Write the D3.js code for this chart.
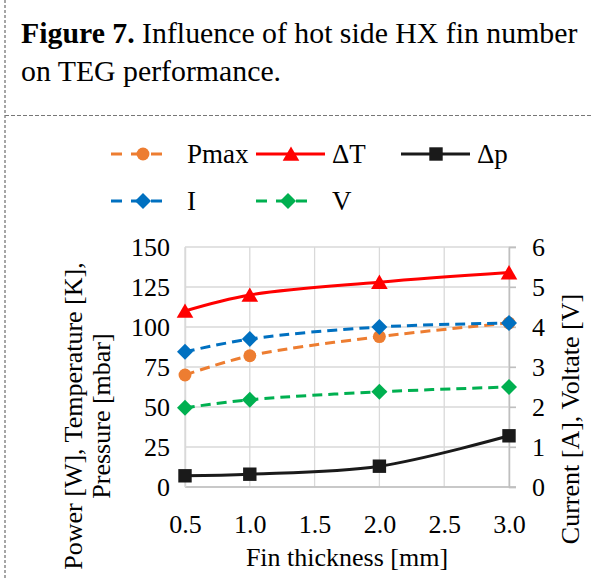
<!DOCTYPE html>
<html>
<head>
<meta charset="utf-8">
<script src="https://cdnjs.cloudflare.com/ajax/libs/d3/7.8.5/d3.min.js"></script>
<style>
  body { margin: 0; background: #fff; }
  svg { display: block; font-family: "Liberation Serif", "Times New Roman", serif; }
</style>
</head>
<body>
<svg id="chart" width="591" height="579"></svg>
<script>
var width = 591;
var height = 579;

// fin thickness [mm]
var thickness = [0.5, 1.0, 2.0, 3.0];
// left axis series
var pmax = [70, 82, 94, 102.5];
var deltaT = [110, 120, 128, 134];
var deltaP = [7, 8, 13, 32];
// right axis series
var current = [3.38, 3.7, 4.0, 4.1];
var voltage = [1.98, 2.18, 2.38, 2.5];

var xTicks = [0.5, 1.0, 1.5, 2.0, 2.5, 3.0];
var yLeftTicks = [0, 25, 50, 75, 100, 125, 150];
var yRightTicks = [0, 1, 2, 3, 4, 5, 6];

var svg = d3.select("#chart");

// frame of the figure box
svg.append("line")
  .attr("x1", 5).attr("x2", 5).attr("y1", 0).attr("y2", height)
  .attr("stroke", "#777").attr("stroke-width", 1.3).attr("stroke-dasharray", "3,2");
svg.append("line")
  .attr("x1", 5).attr("x2", width).attr("y1", 115.5).attr("y2", 115.5)
  .attr("stroke", "#777").attr("stroke-width", 1).attr("stroke-dasharray", "4,2");

// caption
var cap = svg.append("text").attr("font-size", 29.8).attr("fill", "#000");
cap.append("tspan").attr("x", 21).attr("y", 43)
  .attr("font-weight", "bold").text("Figure 7.");
cap.append("tspan").text(" Influence of hot side HX fin number");
svg.append("text").attr("x", 21).attr("y", 81).attr("font-size", 29.8)
  .text("on TEG performance.");

var x = d3.scaleLinear().domain([0.5, 3]).range([185, 509]);
var yL = d3.scaleLinear().domain([0, 150]).range([487, 247]);
var yR = d3.scaleLinear().domain([0, 6]).range([487, 247]);

// gridlines
svg.append("g").selectAll("line").data(yLeftTicks).join("line")
  .attr("x1", x(0.5)).attr("x2", x(3) + 7)
  .attr("y1", function(d) { return yL(d); }).attr("y2", function(d) { return yL(d); })
  .attr("stroke", "#d9d9d9").attr("stroke-width", 1.3);
svg.append("g").selectAll("line").data(xTicks).join("line")
  .attr("x1", function(d) { return x(d); }).attr("x2", function(d) { return x(d); })
  .attr("y1", yL(150)).attr("y2", yL(0))
  .attr("stroke", "#d9d9d9").attr("stroke-width", 1.3);

// axes
var bottomAxis = svg.append("g").attr("transform", "translate(0," + yL(0) + ")")
  .call(d3.axisBottom(x).tickValues(xTicks).tickSize(0).tickPadding(28)
    .tickFormat(d3.format(".1f")));
var leftAxis = svg.append("g").attr("transform", "translate(" + x(0.5) + ",0)")
  .call(d3.axisLeft(yL).tickValues(yLeftTicks).tickSize(0).tickPadding(15));
var rightAxis = svg.append("g").attr("transform", "translate(" + x(3) + ",0)")
  .call(d3.axisRight(yR).tickValues(yRightTicks).tickSize(7).tickPadding(16)
    .tickFormat(d3.format("d")));

[bottomAxis, leftAxis, rightAxis].forEach(function(a) {
  a.selectAll("text").attr("font-family", "Liberation Serif, Times New Roman, serif")
    .attr("font-size", 26).attr("fill", "#000");
  a.select(".domain").attr("stroke", "#bfbfbf").attr("stroke-width", 1.5);
  a.selectAll(".tick line").attr("stroke", "#bfbfbf").attr("stroke-width", 1.3);
});
bottomAxis.select(".domain").attr("d", "M" + x(0.5) + ",0H" + (x(3) + 7));
leftAxis.select(".domain").attr("stroke", "#d9d9d9");
rightAxis.selectAll("text").attr("dy", "0.34em");
leftAxis.selectAll("text").attr("dy", "0.34em");

// axis titles
svg.append("text").attr("transform", "translate(82,416) rotate(-90)")
  .attr("text-anchor", "middle").attr("font-size", 26)
  .text("Power [W], Temperature [K],");
svg.append("text").attr("transform", "translate(110,416) rotate(-90)")
  .attr("text-anchor", "middle").attr("font-size", 26)
  .text("Pressure [mbar]");
svg.append("text").attr("transform", "translate(579,419) rotate(-90)")
  .attr("text-anchor", "middle").attr("font-size", 26)
  .text("Current [A], Voltate [V]");
svg.append("text").attr("x", 347).attr("y", 566)
  .attr("text-anchor", "middle").attr("font-size", 26)
  .text("Fin thickness [mm]");

var series = [
  { name: "Pmax", values: pmax, y: yL, color: "#ED7D31", dash: "10,6", shape: "circle" },
  { name: "\u0394T", values: deltaT, y: yL, color: "#FF0000", dash: null, shape: "triangle" },
  { name: "\u0394p", values: deltaP, y: yL, color: "#1a1a1a", dash: null, shape: "square" },
  { name: "I", values: current, y: yR, color: "#0070C0", dash: "10,6", shape: "diamond" },
  { name: "V", values: voltage, y: yR, color: "#00B050", dash: "10,6", shape: "diamond" }
];

function markerPath(shape) {
  if (shape === "circle") return d3.symbol(d3.symbolCircle, 130)();
  if (shape === "triangle") return d3.symbol(d3.symbolTriangle, 120)();
  if (shape === "square") return d3.symbol(d3.symbolSquare, 180)();
  return "M0,-8L8,0L0,8L-8,0Z";
}

series.forEach(function(s) {
  var line = d3.line()
    .x(function(d, i) { return x(thickness[i]); })
    .y(function(d) { return s.y(d); })
    .curve(d3.curveCatmullRom.alpha(0.5));
  svg.append("path").datum(s.values)
    .attr("d", line).attr("fill", "none")
    .attr("stroke", s.color).attr("stroke-width", 3)
    .attr("stroke-dasharray", s.dash);
  svg.append("g").selectAll("path").data(s.values).join("path")
    .attr("transform", function(d, i) {
      var dy = s.shape === "triangle" ? 2 : 0;
      return "translate(" + x(thickness[i]) + "," + (s.y(d) + dy) + ")";
    })
    .attr("d", markerPath(s.shape)).attr("fill", s.color);
});

// legend
var legendItems = [
  { s: series[0], x: 111, y: 154 },
  { s: series[1], x: 256, y: 154 },
  { s: series[2], x: 401, y: 154 },
  { s: series[3], x: 111, y: 201 },
  { s: series[4], x: 256, y: 201 }
];
legendItems.forEach(function(it) {
  var g = svg.append("g").attr("transform", "translate(" + it.x + "," + it.y + ")");
  var len = it.s.dash ? 58 : 69;
  g.append("line").attr("x1", 0).attr("x2", len).attr("y1", 0).attr("y2", 0)
    .attr("stroke", it.s.color).attr("stroke-width", 3)
    .attr("stroke-dasharray", it.s.dash ? "11,9" : null);
  g.append("path")
    .attr("transform", "translate(" + (it.s.dash ? 32 : 35) + "," + (it.s.shape === "triangle" ? 2 : 0) + ")")
    .attr("d", markerPath(it.s.shape)).attr("fill", it.s.color);
  g.append("text").attr("x", 76).attr("y", 9)
    .attr("font-size", 27).text(it.s.name);
});
</script>
</body>
</html>
